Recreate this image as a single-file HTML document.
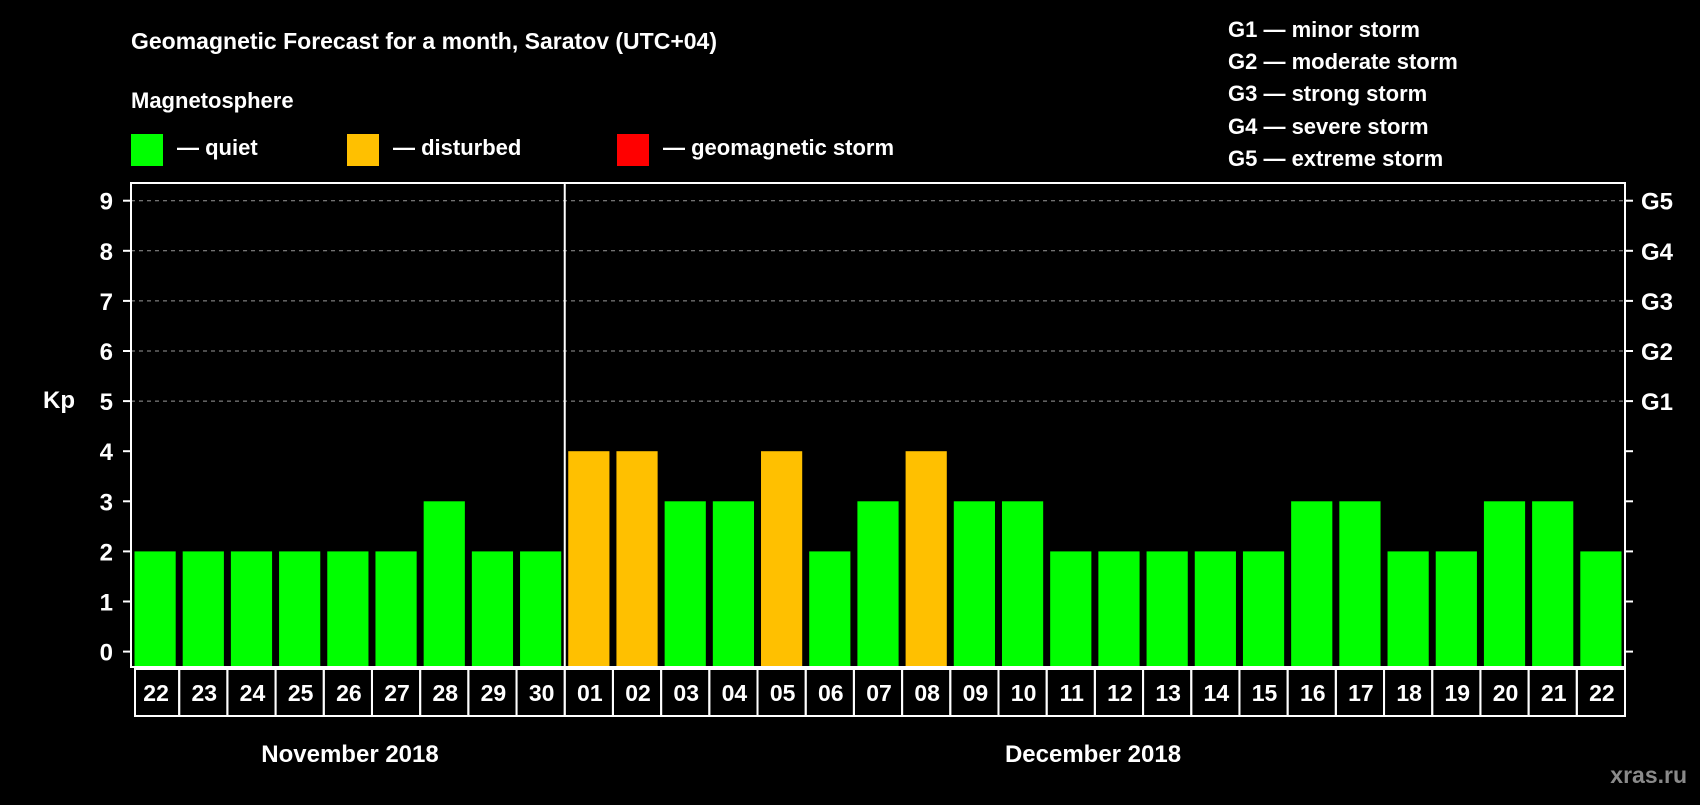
<!DOCTYPE html>
<html><head><meta charset="utf-8"><style>
html,body{margin:0;padding:0;background:#000;}
svg text{font-family:"Liberation Sans",Arial,sans-serif;font-weight:bold;fill:#fff;}
</style></head><body>
<svg id="chart" width="1700" height="800" viewBox="0 0 1700 800" xmlns="http://www.w3.org/2000/svg">
<rect x="0" y="0" width="1700" height="800" fill="#000"/>
<text x="131" y="49" font-size="23">Geomagnetic Forecast for a month, Saratov (UTC+04)</text>
<text x="131" y="108" font-size="22">Magnetosphere</text>
<rect x="131" y="134" width="32" height="32" fill="#00ff00"/>
<text x="177" y="155" font-size="22">— quiet</text>
<rect x="347" y="134" width="32" height="32" fill="#ffc000"/>
<text x="393" y="155" font-size="22">— disturbed</text>
<rect x="617" y="134" width="32" height="32" fill="#ff0000"/>
<text x="663" y="155" font-size="22">— geomagnetic storm</text>
<g font-size="22">
<text x="1228" y="37">G1 — minor storm</text>
<text x="1228" y="69">G2 — moderate storm</text>
<text x="1228" y="101">G3 — strong storm</text>
<text x="1228" y="134">G4 — severe storm</text>
<text x="1228" y="166">G5 — extreme storm</text>
</g>
<text x="43" y="408" font-size="24">Kp</text>
<g id="grid"></g><g id="bars"></g><g id="axes"></g><g id="xlabels"></g>
<text x="350" y="762" font-size="24" text-anchor="middle">November 2018</text>
<text x="1093" y="762" font-size="24" text-anchor="middle">December 2018</text>
<text x="1687" y="783" font-size="23" text-anchor="end" style="fill:#8a8a8a">xras.ru</text>
</svg>
<script>
const days = ["22","23","24","25","26","27","28","29","30","01","02","03","04","05","06","07","08","09","10","11","12","13","14","15","16","17","18","19","20","21","22"];
const kpValues = [2,2,2,2,2,2,3,2,2,4,4,3,3,4,2,3,4,3,3,2,2,2,2,2,3,3,2,2,3,3,2];
const yTicks = [0,1,2,3,4,5,6,7,8,9];
const gLabels = ["G1","G2","G3","G4","G5"];
const gLevels = [5,6,7,8,9];
const monthSplitIndex = 9;

const NS = "http://www.w3.org/2000/svg";
const L = 131, R = 1625, T = 183, B = 667;
const step = (R - L) / days.length;
function xPos(i){ return L + i * step; }
function yPos(v){ return 651.6 - v * 50.1; }
function mk(tag, attrs, parent){ const e = document.createElementNS(NS, tag); for (const k in attrs) e.setAttribute(k, attrs[k]); parent.appendChild(e); return e; }

const grid = document.getElementById("grid");
gLevels.forEach((lv, i) => {
  const ln = mk("line", {x1:L, x2:R, y1:yPos(lv), y2:yPos(lv), stroke:"#999", "stroke-width":1, "stroke-dasharray":"4,4"}, grid);
  
  
});

const bars = document.getElementById("bars");
kpValues.forEach((v, i) => {
  const col = v >= 5 ? "#ff0000" : (v >= 4 ? "#ffc000" : "#00ff00");
  const r = mk("rect", {x: xPos(i) + 3.5, width: step - 7, y: yPos(v), height: B - yPos(v), fill: col}, bars);
  
  
});

const axes = document.getElementById("axes");
const frame = mk("rect", {x:L, y:T, width:R-L, height:B-T, fill:"none", stroke:"#fff", "stroke-width":2}, axes);


const div = mk("line", {x1:xPos(monthSplitIndex), x2:xPos(monthSplitIndex), y1:T, y2:B, stroke:"#fff", "stroke-width":2}, axes);


yTicks.forEach(t => {
  const y = yPos(t);
  mk("line", {x1:L-8, x2:L, y1:y, y2:y, stroke:"#fff", "stroke-width":2}, axes);
  mk("line", {x1:R, x2:R+8, y1:y, y2:y, stroke:"#fff", "stroke-width":2}, axes);
  const tx = mk("text", {x:113, y:y+9, "font-size":24, "text-anchor":"end"}, axes);
  tx.textContent = t;
  
  
});
gLabels.forEach((g, i) => {
  const tx = mk("text", {x:1641, y:yPos(gLevels[i])+9, "font-size":24}, axes);
  tx.textContent = g;
  
  
});

const xl = document.getElementById("xlabels");
days.forEach((d, i) => {
  const bx = mk("rect", {x: xPos(i) + (i===0?4:0), y: 669, width: step - (i===0?4:0), height: 47, fill:"none", stroke:"#fff", "stroke-width":2}, xl);
  
  
  const tx = mk("text", {x: xPos(i) + step/2 + 1, y: 701, "font-size":23, "text-anchor":"middle"}, xl);
  tx.textContent = d;
  
  
});
</script>
</body></html>
